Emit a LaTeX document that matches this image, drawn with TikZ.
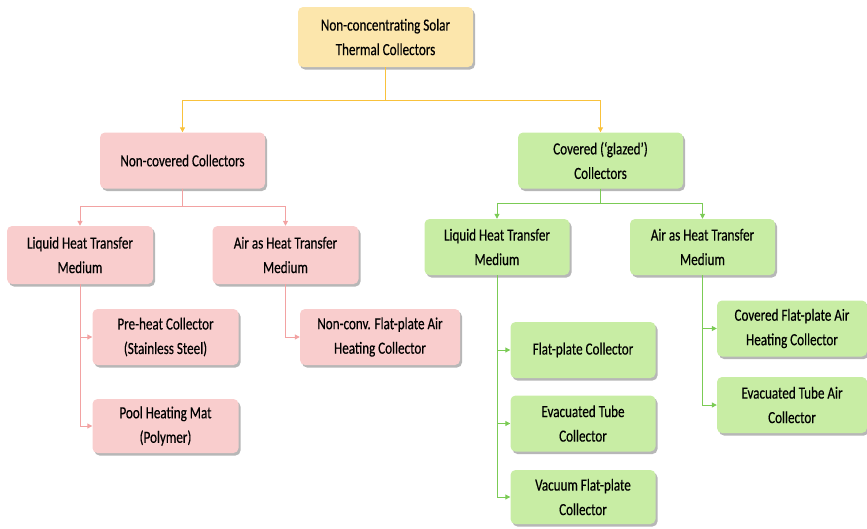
\documentclass[tikz,border=0pt]{standalone}
\usepackage{fontspec}
\setmainfont{Carlito}[FakeStretch=0.77,FakeBold=0.4]
\usepackage{tikz}
\usetikzlibrary{arrows.meta,shadows,positioning}
\definecolor{sunfill}{HTML}{FCE6AC}
\definecolor{sunline}{HTML}{F9C23C}
\definecolor{rosefill}{HTML}{F9CDCD}
\definecolor{roseline}{HTML}{F2A2A2}
\definecolor{leaffill}{HTML}{C8EDA4}
\definecolor{leafline}{HTML}{7BCB55}

\begin{document}
\begin{tikzpicture}[
    x=1pt, y=-1pt,
    >={Triangle[length=5pt,width=5pt]},
    font=\fontsize{17}{24.5}\selectfont,
    box/.style={
		rectangle,
		rounded corners=5pt,
		align=center,
		inner sep=2pt,
		drop shadow={shadow xshift=2pt, shadow yshift=-2.5pt, fill=black!40, opacity=0.7}
	},
	sunbox/.style={box, fill=sunfill, minimum width=175pt, minimum height=60pt},
	rosebox/.style={box, fill=rosefill, minimum width=146pt, minimum height=56pt},
	leafbox/.style={box, fill=leaffill, minimum width=145pt, minimum height=56pt},
	sunlink/.style={draw=sunline, line width=1pt},
	roselink/.style={draw=roseline, line width=1pt},
	leaflink/.style={draw=leafline, line width=1pt}
  ]
  \useasboundingbox (0,0) rectangle (867,528);

  % top and first level
  \node [sunbox] (top) at (385.5,37) {Non-concentrating Solar\\Thermal Collectors};
  \node [rosebox, minimum width=165pt] (nocov) at (182.5,160.5) {Non-covered Collectors};
  \node [leafbox, minimum width=165pt] (cov) at (600.5,160.5) {Covered (‘glazed’)\\Collectors};

  % second level
  \node [rosebox, minimum height=58pt] (liqA) at (80,255) {Liquid Heat Transfer\\Medium};
  \node [rosebox, minimum height=58pt] (airA) at (285.5,255) {Air as Heat Transfer\\Medium};
  \node [leafbox] (liqB) at (497,247) {Liquid Heat Transfer\\Medium};
  \node [leafbox] (airB) at (702.5,247) {Air as Heat Transfer\\Medium};

  % leaves
  \node [rosebox] (pre) at (165.5,337) {Pre-heat Collector\\(Stainless Steel)};
  \node [rosebox, minimum height=54pt] (pool) at (165.5,426) {Pool Heating Mat\\(Polymer)};
  \node [rosebox, minimum width=160pt] (nonconv) at (380,337) {Non-conv. Flat-plate Air\\Heating Collector};
  \node [leafbox] (flat) at (583,350) {Flat-plate Collector};
  \node [leafbox] (evac) at (583,423.5) {Evacuated Tube\\Collector};
  \node [leafbox, minimum height=54pt] (vac) at (583,497) {Vacuum Flat-plate\\Collector};
  \node [leafbox, minimum width=150pt] (covair) at (792,328.5) {Covered Flat-plate Air\\Heating Collector};
  \node [leafbox, minimum width=150pt] (evair) at (792,405) {Evacuated Tube Air\\Collector};

  \coordinate (j0) at (385.5,100);
  \coordinate (j1) at (182.5,206);
  \coordinate (j2) at (600.5,203);

  \draw [sunlink,->] (top) -- (j0) -| (nocov);
  \draw [sunlink,->] (j0) -| (cov);

  \draw [roselink,->] (nocov) -- (j1) -| (liqA);
  \draw [roselink,->] (j1) -| (airA);
  \draw [leaflink,->] (cov) -- (j2) -| (liqB);
  \draw [leaflink,->] (j2) -| (airB);

  \draw [roselink,->] (liqA.south) |- (pre.west);
  \draw [roselink,->] (liqA.south) |- (pool.west);
  \draw [roselink,->] (airA.south) |- (nonconv.west);

  \draw [leaflink,->] (liqB.south) |- (flat.west);
  \draw [leaflink,->] (liqB.south) |- (evac.west);
  \draw [leaflink,->] (liqB.south) |- (vac.west);
  \draw [leaflink,->] (airB.south) |- (covair.west);
  \draw [leaflink,->] (airB.south) |- (evair.west);

\end{tikzpicture}
\end{document}
